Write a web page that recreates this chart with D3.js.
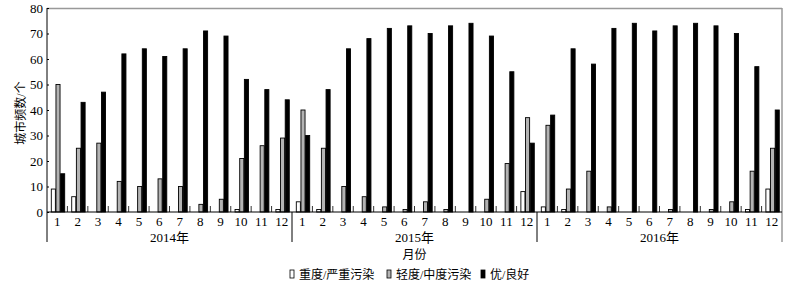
<!DOCTYPE html>
<html>
<head>
<meta charset="utf-8">
<script src="https://cdn.jsdelivr.net/npm/d3@7"></script>
<style>
  body { margin: 0; background: #fff; }
  text { font-family: "Liberation Serif", "Noto Sans CJK SC", serif; fill: #000; }
</style>
</head>
<body>
<div id="chart"></div>
<script>
// years and months on the x axis
const years = ["2014年", "2015年", "2016年"];
const months = ["1", "2", "3", "4", "5", "6", "7", "8", "9", "10", "11", "12"];
const seriesNames = ["重度/严重污染", "轻度/中度污染", "优/良好"];
const yTicks = [0, 10, 20, 30, 40, 50, 60, 70, 80];

// city counts, 36 months each (2014..2016)
const severe = [9, 6, 0, 0, 0, 0, 0, 0, 0, 1, 0, 1,
                4, 1, 0, 0, 0, 0, 0, 0, 0, 0, 0, 8,
                2, 1, 0, 0, 0, 0, 0, 0, 0, 0, 1, 9];
const moderate = [50, 25, 27, 12, 10, 13, 10, 3, 5, 21, 26, 29,
                  40, 25, 10, 6, 2, 1, 4, 1, 0, 5, 19, 37,
                  34, 9, 16, 2, 0, 0, 1, 0, 1, 4, 16, 25];
const good = [15, 43, 47, 62, 64, 61, 64, 71, 69, 52, 48, 44,
              30, 48, 64, 68, 72, 73, 70, 73, 74, 69, 55, 27,
              38, 64, 58, 72, 74, 71, 73, 74, 73, 70, 57, 40];

const width = 804, height = 283;
const plotLeft = 47, plotRight = 782, plotTop = 8, plotBottom = 212, sepBottom = 242;

const svg = d3.select("#chart").append("svg")
    .attr("width", width)
    .attr("height", height);

// one key per month across the three years
const keys = [];
years.forEach((yr, yi) => months.forEach((m, mi) => keys.push(yi * 12 + mi)));

const x0 = d3.scaleBand().domain(keys).range([plotLeft, plotRight]).padding(0);
const x1 = d3.scaleBand().domain([0, 1, 2]).range([3.8, 17.8]).padding(0);
const y = d3.scaleLinear().domain([0, 80]).range([plotBottom, plotTop]);

const fills = ["#ffffff", "#b3b3b3", "#000000"];
const values = [severe, moderate, good];

// grey frame top / right
svg.append("line").attr("x1", plotLeft).attr("x2", plotRight).attr("y1", plotTop + 0.5).attr("y2", plotTop + 0.5)
    .attr("stroke", "#999").attr("stroke-width", 1.5);
svg.append("line").attr("x1", plotRight).attr("x2", plotRight).attr("y1", plotTop).attr("y2", sepBottom)
    .attr("stroke", "#999").attr("stroke-width", 1.5);

// bars
const groups = svg.selectAll("g.month")
    .data(keys)
    .enter().append("g")
    .attr("class", "month")
    .attr("transform", d => `translate(${x0(d)},0)`);

groups.selectAll("rect")
    .data(k => values.map((arr, si) => ({ si: si, v: arr[k] })).filter(d => d.v > 0))
    .enter().append("rect")
    .attr("x", d => x1(d.si) + 0.5)
    .attr("y", d => y(d.v))
    .attr("width", x1.bandwidth() - 0.6)
    .attr("height", d => plotBottom - y(d.v))
    .attr("fill", d => fills[d.si])
    .attr("stroke", "#000")
    .attr("stroke-width", 0.9);

// small inner ticks between months
svg.selectAll("line.mtick")
    .data(keys.filter(k => k % 12 !== 0))
    .enter().append("line")
    .attr("class", "mtick")
    .attr("x1", d => x0(d)).attr("x2", d => x0(d))
    .attr("y1", plotBottom).attr("y2", plotBottom - 6)
    .attr("stroke", "#000").attr("stroke-width", 0.8);

// year separators
svg.selectAll("line.ysep")
    .data([0, 12, 24])
    .enter().append("line")
    .attr("class", "ysep")
    .attr("x1", d => x0(d)).attr("x2", d => x0(d))
    .attr("y1", d => d === 0 ? plotTop : plotBottom).attr("y2", sepBottom)
    .attr("stroke", "#000").attr("stroke-width", 1);

// y axis
const yAxis = d3.axisRight(y).tickValues(yTicks).tickSize(2).tickFormat(d3.format("d"));
const yg = svg.append("g").attr("transform", `translate(${plotLeft},0)`).call(yAxis);
yg.select(".domain").remove();
yg.selectAll("text").attr("x", -4).attr("text-anchor", "end")
    .style("font-size", "13px").style("font-family", '"Liberation Serif", serif');

// x axis line
svg.append("line").attr("x1", plotLeft).attr("x2", plotRight).attr("y1", plotBottom).attr("y2", plotBottom)
    .attr("stroke", "#000").attr("stroke-width", 1);

// month labels
svg.selectAll("text.mlab")
    .data(keys)
    .enter().append("text")
    .attr("class", "mlab")
    .attr("x", d => x0(d) + x0.bandwidth() / 2)
    .attr("y", 225.5)
    .attr("text-anchor", "middle")
    .style("font-size", "13px")
    .text(d => months[d % 12]);

// year labels
svg.selectAll("text.ylab")
    .data(years)
    .enter().append("text")
    .attr("class", "ylab")
    .attr("x", (d, i) => (x0(i * 12) + x0(i * 12 + 11) + x0.bandwidth()) / 2)
    .attr("y", 241.5)
    .attr("text-anchor", "middle")
    .style("font-size", "13px")
    .text(d => d);

// axis titles
svg.append("text")
    .attr("x", (plotLeft + plotRight) / 2)
    .attr("y", 259)
    .attr("text-anchor", "middle")
    .style("font-size", "12px")
    .text("月份");

svg.append("text")
    .attr("transform", "translate(25,113) rotate(-90)")
    .attr("text-anchor", "middle")
    .style("font-size", "12px")
    .text("城市频数/个");

// legend
const legendX = [290, 387, 481];
const lg = svg.selectAll("g.legend")
    .data(seriesNames)
    .enter().append("g")
    .attr("class", "legend")
    .attr("transform", (d, i) => `translate(${legendX[i]},274)`);

lg.append("rect")
    .attr("x", 0).attr("y", -4)
    .attr("width", 4).attr("height", 8)
    .attr("fill", (d, i) => fills[i])
    .attr("stroke", "#000").attr("stroke-width", 0.8);

lg.append("text")
    .attr("x", 9).attr("y", 4.5)
    .style("font-size", "12px")
    .text(d => d);
</script>
</body>
</html>
